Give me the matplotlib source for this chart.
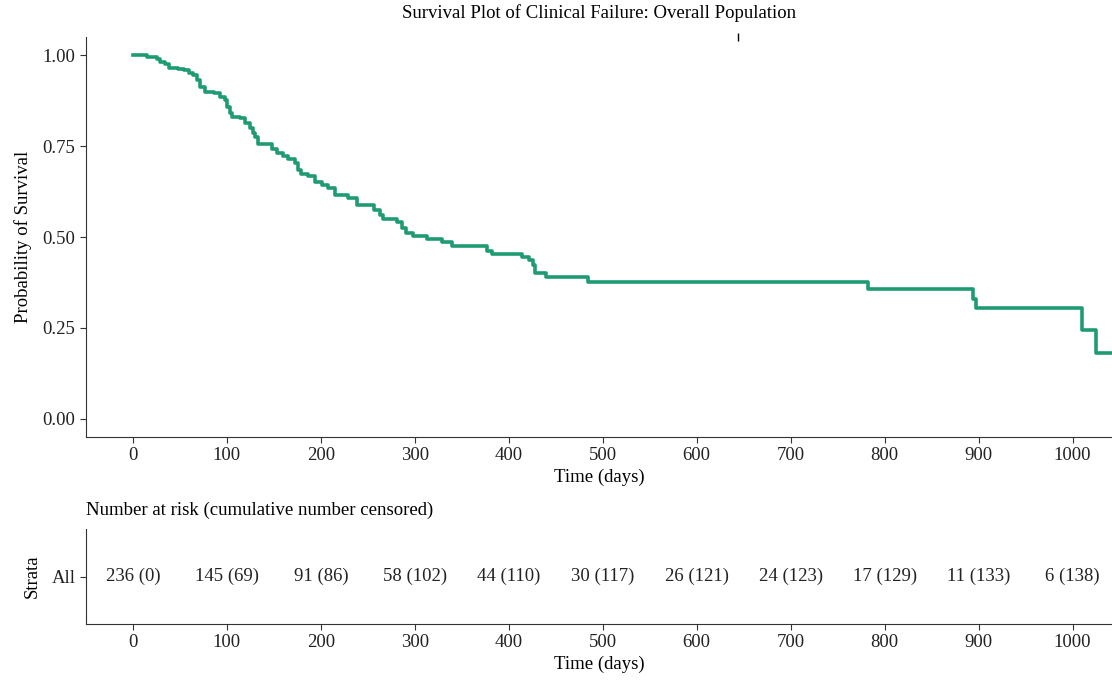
import matplotlib
matplotlib.use("Agg")
import matplotlib.pyplot as plt

# Kaplan-Meier steps: time (days) and survival after each event
times = [0, 14.6, 25.2, 28.7, 34, 38.3, 47.9, 54, 59.6, 63.8, 68, 71.3, 76.6, 86, 92.6,
         97.9, 100, 103, 105, 113.8, 119, 124.5, 127.7, 129.8, 132.7, 143.6, 147.6,
         152.9, 159.6, 164.9, 172.3, 175.5, 178.7, 186, 193.6, 200.7, 207.4, 214.9,
         228.7, 238, 256, 262.8, 266, 281, 286, 291, 298, 312.8, 328.7, 340, 376.6,
         381.6, 413.8, 422, 425.5, 427.7, 440, 484, 782, 893.6, 896.8, 1010.6, 1025.5]
surv = [1.0, 0.994, 0.989, 0.982, 0.975, 0.965, 0.962, 0.959, 0.952, 0.945, 0.931,
        0.913, 0.899, 0.895, 0.885, 0.876, 0.858, 0.841, 0.831, 0.828, 0.813, 0.799,
        0.786, 0.775, 0.757, 0.755, 0.742, 0.731, 0.723, 0.714, 0.704, 0.684, 0.673,
        0.668, 0.652, 0.643, 0.635, 0.615, 0.607, 0.588, 0.574, 0.560, 0.549, 0.542,
        0.525, 0.511, 0.503, 0.495, 0.485, 0.475, 0.462, 0.453, 0.444, 0.437, 0.423,
        0.400, 0.390, 0.376, 0.357, 0.330, 0.305, 0.245, 0.181]
last_time = 1045

# stray censor tick seen near the top of the reference panel
stray_mark = (644, 1.05)

risk_times = [0, 100, 200, 300, 400, 500, 600, 700, 800, 900, 1000]
at_risk = [236, 145, 91, 58, 44, 30, 26, 24, 17, 11, 6]
censored = [0, 69, 86, 102, 110, 117, 121, 123, 129, 133, 138]

y_ticks = [0.00, 0.25, 0.50, 0.75, 1.00]

plt.rcParams["font.family"] = ["Liberation Serif", "DejaVu Serif"]
plt.rcParams["font.size"] = 13.5
plt.rcParams["axes.edgecolor"] = "#333333"
plt.rcParams["xtick.color"] = "#333333"
plt.rcParams["ytick.color"] = "#333333"
plt.rcParams["xtick.labelcolor"] = "#222222"
plt.rcParams["ytick.labelcolor"] = "#222222"

W, H = 1112, 682
fig = plt.figure(figsize=(W / 100, H / 100), dpi=100)

xlim = (-50, 1042)

ax = fig.add_axes([86 / W, 1 - 437 / H, 1 - 86 / W, (437 - 37) / H])
ax.step(times + [last_time], surv + [surv[-1]], where="post", color="#1f9b74", linewidth=2.6)
ax.plot(*stray_mark, marker="|", color="black", markersize=6, clip_on=False)
ax.set_xlim(*xlim)
ax.set_ylim(-0.05, 1.05)
ax.set_xticks(risk_times)
ax.set_yticks(y_ticks)
ax.set_yticklabels([f"{v:.2f}" for v in y_ticks])
ax.set_xlabel("Time (days)", labelpad=3)
ax.set_ylabel("Probability of Survival", labelpad=8)
ax.set_title("Survival Plot of Clinical Failure: Overall Population", fontsize=13.5, pad=14)
for s in ["top", "right"]:
    ax.spines[s].set_visible(False)
ax.tick_params(length=4, width=0.8)

tab = fig.add_axes([86 / W, 1 - 624 / H, 1 - 86 / W, (624 - 529) / H])
tab.set_xlim(*xlim)
tab.set_ylim(0, 1)
for t, n, c in zip(risk_times, at_risk, censored):
    tab.text(t, 0.5, f"{n} ({c})", ha="center", va="center", color="#222222")
tab.set_xticks(risk_times)
tab.set_yticks([0.5])
tab.set_yticklabels(["All"])
tab.set_xlabel("Time (days)", labelpad=3)
tab.set_ylabel("Strata", labelpad=8)
tab.set_title("Number at risk (cumulative number censored)", loc="left", fontsize=13.5, pad=10)
for s in ["top", "right"]:
    tab.spines[s].set_visible(False)
tab.tick_params(length=4, width=0.8)

fig.savefig("out.png", dpi=100)
